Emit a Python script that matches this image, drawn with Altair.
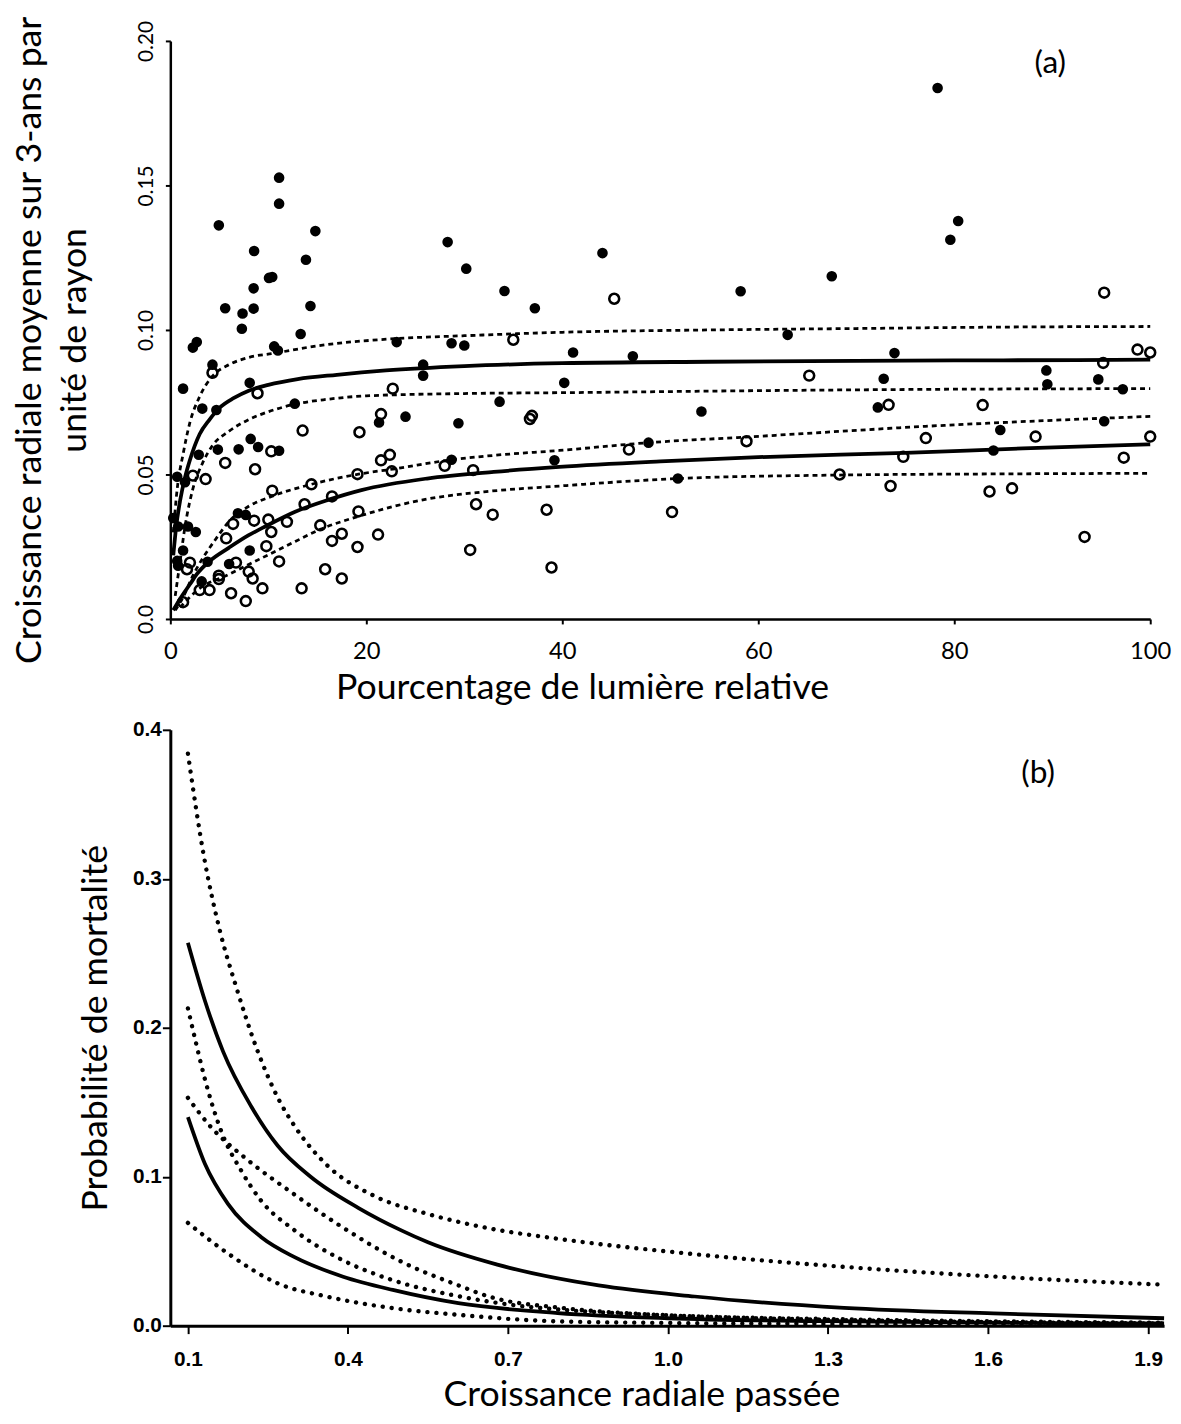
import altair as alt
import pandas as pd

# ---------------- Panel (a): points ----------------
filled_x = [11.1, 11.1, 4.95, 14.8, 8.55, 13.84, 28.3, 30.2, 10.4, 10.07, 8.5, 14.3, 5.6, 7.37, 8.5,
            7.3, 34.1, 37.2, 13.3, 2.3, 2.7, 10.6, 10.98, 23.1, 28.7, 30.0, 4.3, 25.8, 25.8,
            1.3, 8.1, 3.26, 4.7, 12.7, 33.6, 21.3, 24.0, 29.4, 2.9, 4.85, 6.97, 8.2, 8.96, 11.1,
            28.7, 39.2, 0.7, 1.5, 0.3, 0.8, 1.8, 2.6, 6.9, 7.7, 8.1, 1.3, 0.7, 0.8, 3.8, 6.0, 3.2,
            78.3, 80.4, 79.6, 44.1, 58.2, 67.5, 63.0, 41.1, 47.2, 73.9,
            72.8, 89.4, 94.7, 89.5, 97.2, 40.2, 54.2, 72.2, 95.3, 84.7, 48.8, 84.0, 51.8]
filled_y = [0.1527, 0.1437, 0.1362, 0.1342, 0.1273, 0.1243, 0.1304, 0.1212, 0.1183, 0.1180, 0.1144,
            0.1083, 0.1075, 0.1057, 0.1074, 0.1004, 0.1135, 0.1075, 0.0986, 0.0939, 0.0958, 0.0943,
            0.0929, 0.0958, 0.0954, 0.0946, 0.0880, 0.0880, 0.0842,
            0.0797, 0.0817, 0.0728, 0.0723, 0.0745, 0.0752, 0.0680, 0.0700, 0.0677, 0.0568, 0.0586,
            0.0587, 0.0623, 0.0595, 0.0582, 0.0551, 0.0549, 0.0492, 0.0473, 0.0349, 0.0320, 0.0320,
            0.0301, 0.0366, 0.0360, 0.0237, 0.0237, 0.0201, 0.0184, 0.0198, 0.0190, 0.0130,
            0.1837, 0.1377, 0.1312, 0.1266, 0.1134, 0.1186, 0.0983, 0.0922, 0.0909, 0.0920,
            0.0831, 0.0860, 0.0829, 0.0812, 0.0795, 0.0817, 0.0718, 0.0732, 0.0684, 0.0654, 0.0610,
            0.0583, 0.0486]

open_x = [35.0, 4.3, 8.9, 22.7, 21.5, 36.7, 36.9, 13.5, 19.3, 5.6, 10.3, 8.65, 21.5, 22.4, 22.6,
          19.1, 28.0, 30.9, 2.3, 3.6, 14.4, 10.4, 13.7, 16.5, 19.2, 31.2, 32.9, 38.4, 30.6, 38.9,
          6.4, 8.55, 10.0, 11.9, 10.3, 5.7, 9.8, 15.3, 17.5, 16.5, 19.1, 21.2, 11.1, 15.8, 17.5,
          13.4, 2.0, 1.7, 6.7, 4.95, 4.95, 3.0, 4.0, 6.2, 7.7, 8.0, 8.4, 9.4, 1.3,
          45.3, 95.3, 98.7, 100.0, 95.2,
          65.2, 73.3, 82.9, 77.1, 88.3, 100.0, 46.8, 58.8, 74.8, 97.3, 68.3, 73.5, 83.6, 85.9,
          51.2, 93.3]
open_y = [0.0966, 0.0852, 0.0781, 0.0797, 0.0709, 0.0692, 0.0703, 0.0652, 0.0646, 0.0540, 0.0580,
          0.0518, 0.0549, 0.0568, 0.0511, 0.0501, 0.0530, 0.0515, 0.0496, 0.0484, 0.0466, 0.0444,
          0.0397, 0.0424, 0.0372, 0.0397, 0.0361, 0.0378, 0.0239, 0.0178,
          0.0329, 0.0340, 0.0344, 0.0336, 0.0301, 0.0279, 0.0252, 0.0324, 0.0295, 0.0270, 0.0249,
          0.0292, 0.0199, 0.0172, 0.0140, 0.0106, 0.0195, 0.0172, 0.0195, 0.0150, 0.0138, 0.0100,
          0.0100, 0.0089, 0.0062, 0.0164, 0.0140, 0.0106, 0.0058,
          0.1108, 0.1129, 0.0932, 0.0922, 0.0886,
          0.0842, 0.0741, 0.0740, 0.0626, 0.0631, 0.0631, 0.0586, 0.0615, 0.0561, 0.0558, 0.0500,
          0.0460, 0.0441, 0.0452, 0.0370, 0.0284]

# ---------------- Panel (a): fitted curves ----------------
a_hi_fit_x = [0.3, 0.6, 1.0, 1.5, 2.0, 3.0, 4.0, 5.0, 6.5, 8.0, 10, 13, 17, 22, 30, 40, 55, 70, 85, 100]
a_hi_fit_y = [0.022, 0.032, 0.041, 0.049, 0.055, 0.064, 0.069, 0.073, 0.0765, 0.079, 0.081, 0.083,
              0.0845, 0.086, 0.0875, 0.0885, 0.089, 0.0893, 0.0895, 0.0897]
a_hi_up_x = [0.3, 0.7, 1.3, 2.0, 3.0, 4.3, 6.0, 8.0, 10.7, 15, 23, 30, 40, 55, 70, 85, 100]
a_hi_up_y = [0.030, 0.045, 0.057, 0.068, 0.077, 0.084, 0.088, 0.0905, 0.092, 0.0945, 0.097, 0.098,
             0.0992, 0.1, 0.1005, 0.101, 0.1012]
a_hi_lo_x = [0.5, 1.0, 1.5, 2.3, 3.3, 4.3, 6.0, 8.0, 10, 12.7, 16, 20, 30, 40, 60, 80, 100]
a_hi_lo_y = [0.008, 0.020, 0.032, 0.045, 0.054, 0.060, 0.065, 0.069, 0.0717, 0.0743, 0.076, 0.0772,
             0.078, 0.0783, 0.079, 0.0795, 0.0797]
a_lo_fit_x = [0.3, 1.0, 2.0, 2.7, 4.0, 6.0, 8.0, 9.4, 12.8, 16.1, 19.5, 26.2, 33, 39.7, 50, 60, 75, 87, 100]
a_lo_fit_y = [0.003, 0.007, 0.012, 0.0155, 0.020, 0.0247, 0.029, 0.0315, 0.0372, 0.0412, 0.0446,
              0.0486, 0.0509, 0.0526, 0.0545, 0.056, 0.0575, 0.059, 0.0604]
a_lo_up_x = [0.5, 1.3, 2.3, 3.3, 4.5, 6.0, 8.0, 10.4, 14.4, 19.2, 23, 28.3, 33, 39.7, 48.8, 59, 79, 100]
a_lo_up_y = [0.003, 0.0075, 0.015, 0.021, 0.027, 0.0338, 0.039, 0.0425, 0.0466, 0.0501, 0.052,
             0.0549, 0.0566, 0.0583, 0.061, 0.063, 0.067, 0.0701]
a_lo_lo_x = [1.0, 2.7, 6.0, 9.4, 12.8, 15.3, 19.2, 26.2, 32, 39.7, 51.8, 68.3, 85, 100]
a_lo_lo_y = [0.004, 0.0098, 0.0155, 0.0212, 0.0269, 0.031, 0.0355, 0.0415, 0.044, 0.046, 0.0486,
             0.0498, 0.0502, 0.0504]

# ---------------- Panel (b): curves ----------------
b_hi_fit_x = [0.10, 0.132, 0.166, 0.219, 0.268, 0.33, 0.42, 0.50, 0.55, 0.68, 0.87, 1.05, 1.33, 1.61, 1.93]
b_hi_fit_y = [0.257, 0.218, 0.184, 0.147, 0.121, 0.100, 0.079, 0.064, 0.056, 0.041, 0.027, 0.0196,
              0.012, 0.0082, 0.005]
b_hi_up_x = [0.10, 0.13, 0.16, 0.19, 0.23, 0.27, 0.30, 0.36, 0.45, 0.55, 0.67, 0.78, 1.05, 1.33, 1.61, 1.93]
b_hi_up_y = [0.384, 0.315, 0.265, 0.228, 0.185, 0.152, 0.134, 0.108, 0.087, 0.075, 0.065, 0.059,
             0.048, 0.0395, 0.033, 0.0275]
b_mid_a_x = [0.10, 0.115, 0.13, 0.163, 0.20, 0.237, 0.30, 0.39, 0.48, 0.61, 0.73, 0.80, 1.0, 1.3, 1.6, 1.93]
b_mid_a_y = [0.213, 0.190, 0.168, 0.130, 0.104, 0.084, 0.064, 0.044, 0.031, 0.0196, 0.013, 0.0107,
             0.007, 0.004, 0.0025, 0.0015]
b_mid_b_x = [0.10, 0.144, 0.206, 0.30, 0.39, 0.50, 0.60, 0.67, 0.80, 1.0, 1.3, 1.6, 1.93]
b_mid_b_y = [0.153, 0.133, 0.113, 0.088, 0.066, 0.043, 0.028, 0.019, 0.012, 0.007, 0.0045, 0.003, 0.002]
b_lo_fit_x = [0.10, 0.132, 0.175, 0.237, 0.299, 0.391, 0.484, 0.607, 0.793, 1.0, 1.3, 1.6, 1.93]
b_lo_fit_y = [0.140, 0.1085, 0.0818, 0.0596, 0.0462, 0.0329, 0.024, 0.0151, 0.0085, 0.005, 0.003,
              0.002, 0.0015]
b_lo_lo_x = [0.10, 0.175, 0.268, 0.36, 0.484, 0.607, 0.793, 1.0, 1.3, 1.6, 1.93]
b_lo_lo_y = [0.069, 0.0485, 0.0285, 0.0196, 0.0118, 0.0073, 0.0029, 0.0018, 0.0012, 0.0009, 0.0007]

a_labels = ["(a)"]
a_label_x = [89.8]
a_label_y = [0.1925]
b_labels = ["(b)"]
b_label_x = [1.694]
b_label_y = [0.371]


def curves(pairs):
    rows = []
    for name, xs, ys in pairs:
        for xv, yv in zip(xs, ys):
            rows.append({"curve": name, "x": xv, "y": yv})
    return pd.DataFrame(rows)


pts_filled = pd.DataFrame({"x": filled_x, "y": filled_y})
pts_open = pd.DataFrame({"x": open_x, "y": open_y})
a_solid = curves([("hi", a_hi_fit_x, a_hi_fit_y), ("lo", a_lo_fit_x, a_lo_fit_y)])
a_dash = curves([("hi_up", a_hi_up_x, a_hi_up_y), ("hi_lo", a_hi_lo_x, a_hi_lo_y),
                 ("lo_up", a_lo_up_x, a_lo_up_y), ("lo_lo", a_lo_lo_x, a_lo_lo_y)])
b_solid = curves([("hi", b_hi_fit_x, b_hi_fit_y), ("lo", b_lo_fit_x, b_lo_fit_y)])
b_dot = curves([("hi_up", b_hi_up_x, b_hi_up_y), ("mid_a", b_mid_a_x, b_mid_a_y),
                ("mid_b", b_mid_b_x, b_mid_b_y), ("lo_lo", b_lo_lo_x, b_lo_lo_y)])
a_txt = pd.DataFrame({"x": a_label_x, "y": a_label_y, "t": a_labels})
b_txt = pd.DataFrame({"x": b_label_x, "y": b_label_y, "t": b_labels})

TF = "Lato"
TS = 36

# ---------------- Panel (a) ----------------
ax_a_x = alt.Axis(values=[0, 20, 40, 60, 80, 100], format="d", labelFlush=False,
                  domainWidth=2.5, domainColor="black", tickColor="black", tickWidth=2, tickSize=5,
                  labelFont=TF, labelFontSize=24, labelColor="black", labelPadding=16,
                  titleFont=TF, titleFontSize=TS, titleFontWeight="normal", titleColor="black",
                  titleX=416, titleY=80, titleAlign="center", titleBaseline="alphabetic")
ax_a_y = alt.Axis(values=[0, 0.05, 0.10, 0.15, 0.20],
                  labelExpr="datum.value == 0 ? '0.0' : format(datum.value, '.2f')",
                  labelAngle=270, labelAlign="center", labelBaseline="alphabetic", labelFlush=False,
                  domainWidth=2.5, domainColor="black", tickColor="black", tickWidth=2, tickSize=5,
                  labelFont=TF, labelFontSize=21, labelColor="black", labelPadding=13,
                  titleFont=TF, titleFontSize=TS, titleFontWeight="normal", titleColor="black",
                  titleX=-131, titleY=302, titleAlign="center", titleBaseline="alphabetic",
                  titleLineHeight=45, titleLimit=2000)
xa = alt.X("x:Q", scale=alt.Scale(domain=[0, 100], nice=False, zero=False), axis=ax_a_x,
           title="Pourcentage de lumière relative")
ya = alt.Y("y:Q", scale=alt.Scale(domain=[0, 0.2], nice=False, zero=False), axis=ax_a_y,
           title=["Croissance radiale moyenne sur 3-ans par", "unité de rayon"])

a_pts_f = alt.Chart(pts_filled).mark_circle(size=115, color="black", opacity=1).encode(x=xa, y=ya)
a_pts_o = alt.Chart(pts_open).mark_point(shape="circle", filled=False, size=100, strokeWidth=2.6,
                                         color="black", opacity=1).encode(x=xa, y=ya)
a_l_s = alt.Chart(a_solid).mark_line(color="black", strokeWidth=3.8, interpolate="monotone").encode(
    x=xa, y=ya, detail="curve:N")
a_l_d = alt.Chart(a_dash).mark_line(color="black", strokeWidth=2.8, strokeDash=[5, 4],
                                    interpolate="monotone").encode(x=xa, y=ya, detail="curve:N")
a_t = alt.Chart(a_txt).mark_text(font=TF, fontSize=32, color="black", align="center",
                                 baseline="middle").encode(x=xa, y=ya, text="t:N")
panel_a = alt.layer(a_l_d, a_l_s, a_pts_o, a_pts_f, a_t).properties(width=990, height=584)

# ---------------- Panel (b) ----------------
LF = "Liberation Sans"
ax_b_x = alt.Axis(values=[0.1, 0.4, 0.7, 1.0, 1.3, 1.6, 1.9], format=".1f", labelFlush=False,
                  domainWidth=3, domainColor="black", tickColor="black", tickWidth=2, tickSize=8,
                  labelFont=LF, labelFontWeight="bold", labelFontSize=21, labelColor="black",
                  labelPadding=15,
                  titleFont=TF, titleFontSize=TS, titleFontWeight="normal", titleColor="black",
                  titleX=476, titleY=81, titleAlign="center", titleBaseline="alphabetic")
ax_b_y = alt.Axis(values=[0, 0.1, 0.2, 0.3, 0.4], format=".1f", labelFlush=False,
                  domainWidth=3, domainColor="black", tickColor="black", tickWidth=2, tickSize=8,
                  labelFont=LF, labelFontWeight="bold", labelFontSize=21, labelColor="black",
                  labelPadding=1,
                  titleFont=TF, titleFontSize=TS, titleFontWeight="normal", titleColor="black",
                  titleX=-64, titleAlign="center", titleBaseline="alphabetic", titleLimit=2000)
xb = alt.X("x:Q", scale=alt.Scale(domain=[0.067, 1.93], nice=False, zero=False), axis=ax_b_x,
           title="Croissance radiale passée")
yb = alt.Y("y:Q", scale=alt.Scale(domain=[0, 0.4], nice=False, zero=False), axis=ax_b_y,
           title="Probabilité de mortalité")

b_l_s = alt.Chart(b_solid).mark_line(color="black", strokeWidth=3.8, interpolate="monotone").encode(
    x=xb, y=yb, detail="curve:N")
b_l_d = alt.Chart(b_dot).mark_line(color="black", strokeWidth=4.4, strokeDash=[0.1, 9],
                                   strokeCap="round", interpolate="monotone").encode(
    x=xb, y=yb, detail="curve:N")
b_t = alt.Chart(b_txt).mark_text(font=TF, fontSize=32, color="black", align="center",
                                 baseline="middle").encode(x=xb, y=yb, text="t:N")
panel_b = alt.layer(b_l_d, b_l_s, b_t).properties(width=1004, height=602)

chart = alt.vconcat(panel_a, panel_b, spacing=14).configure(
    padding={"left": 4, "top": 0, "right": 0, "bottom": 0},
    background="white",
).configure_view(stroke=None).configure_axis(grid=False)

chart.save("out.html", embed_options={"renderer": "svg", "actions": False})
